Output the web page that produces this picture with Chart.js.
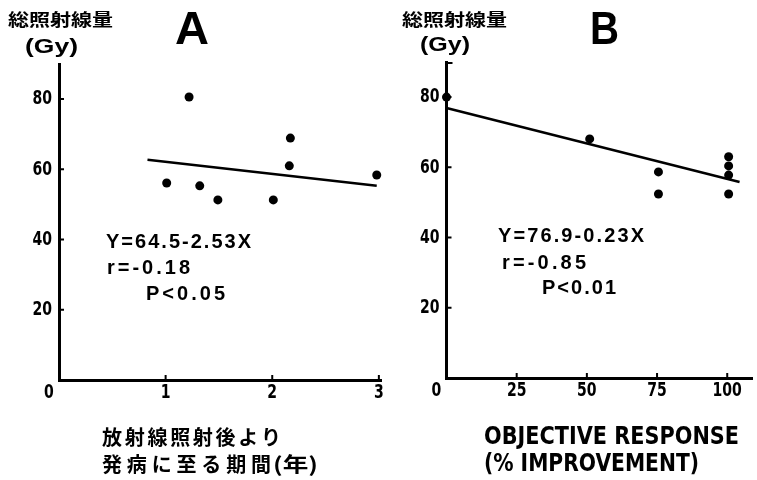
<!DOCTYPE html>
<html><head><meta charset="utf-8">
<script src="https://cdn.jsdelivr.net/npm/chart.js@4.4.1/dist/chart.umd.min.js"></script>
<style>
html,body{margin:0;padding:0;background:#fff;width:757px;height:480px;overflow:hidden;}
#wrap{position:relative;width:757px;height:480px;background:#fff;}
canvas{position:absolute;top:0;}
#ca{left:0;} #cb{left:380px;}
</style></head><body>
<div id="wrap"><canvas id="ca" width="400" height="480"></canvas><canvas id="cb" width="377" height="480"></canvas></div>
<script>
// ---- Panel A data: years from irradiation to onset vs total dose (Gy)
const aYears = [1.01, 1.22, 1.32, 1.49, 2.01, 2.16, 2.17, 2.98];
const aDose  = [56.1, 80.6, 55.3, 51.3, 51.3, 61.0, 68.9, 58.4];
const aFitX  = [0.83, 2.98];
const aFitY  = [62.7, 55.3];
const aXTicks = [1, 2, 3];

// ---- Panel B data: objective response (% improvement) vs total dose (Gy)
const bResp = [0, 51, 75.5, 75.5, 100.5, 100.5, 100.5, 100.5];
const bDose = [80, 68.1, 58.7, 52.4, 63.0, 60.4, 57.8, 52.4];
const bFitX = [0, 104.4];
const bFitY = [76.9, 55.8];
const bXTicks = [25, 50, 75, 100];

const yTicks = [20, 40, 60, 80];

const COND = "'DejaVu Sans Condensed','DejaVu Sans',sans-serif";
const LATIN = "'Liberation Sans',Arial,sans-serif";
const CJK = "'Noto Sans CJK JP',sans-serif";

function drawFit(ctx, t, offX){
  ctx.save();
  ctx.font = t.font;
  ctx.fillStyle = '#000';
  ctx.textBaseline = 'middle';
  ctx.textAlign = 'left';
  const chars = Array.from(t.text);
  const widths = chars.map(c => ctx.measureText(c).width);
  const w = widths.reduce((a,b)=>a+b,0);
  const target = t.x1 - t.x0;
  const left = t.x0 - offX;
  if (t.mode === 'scale' || w >= target || chars.length < 2) {
    const s = target / ctx.measureText(t.text).width;
    ctx.translate(left, t.cy); ctx.scale(s,1);
    ctx.fillText(t.text, 0, 0);
  } else {
    const ls = (target - w)/(chars.length-1);
    let x = left;
    chars.forEach((c,i)=>{ ctx.fillText(c, x, t.cy); x += widths[i] + ls; });
  }
  ctx.restore();
}

// narrow tick label: align 'center' or 'right'
function tickLabel(ctx, text, x, y, align){
  ctx.save();
  ctx.font = "bold 20px " + COND;
  ctx.fillStyle = '#000';
  ctx.textBaseline = 'middle';
  ctx.textAlign = align;
  ctx.translate(x, y);
  ctx.scale(0.78, 1);
  ctx.fillText(text, 0, 0);
  ctx.restore();
}

const decorPlugin = {
  id: 'decor',
  afterDatasetsDraw(chart, args, opts){
    const {ctx, chartArea: ca, scales: {x, y}} = chart;
    ctx.save();
    ctx.strokeStyle = '#000';
    ctx.lineWidth = 2;
    ctx.beginPath();
    opts.xTicks.forEach(v => { const px = x.getPixelForValue(v); ctx.moveTo(px, ca.bottom); ctx.lineTo(px, ca.bottom - 5); });
    opts.yTicks.forEach(v => { const py = y.getPixelForValue(v); ctx.moveTo(ca.left, py); ctx.lineTo(ca.left + 5, py); });
    if (opts.cap) { ctx.moveTo(ca.left, ca.top + 1); ctx.lineTo(ca.left + 6, ca.top + 1); }
    ctx.stroke();
    ctx.restore();
    opts.xTicks.forEach(v => tickLabel(ctx, String(v), x.getPixelForValue(v), ca.bottom + 13, 'center'));
    opts.yTicks.forEach(v => tickLabel(ctx, String(v), ca.left - 7, y.getPixelForValue(v), 'right'));
    tickLabel(ctx, '0', x.getPixelForValue(0) - 10, ca.bottom + 13, 'center');
    opts.texts.forEach(t => drawFit(ctx, t, opts.offX));
  }
};

function makeChart(id, cfg){
  const yw = cfg.yWidth, xh = cfg.xHeight;
  return new Chart(document.getElementById(id), {
    type: 'scatter',
    data: {
      datasets: [
        { data: cfg.px.map((v,i)=>({x:v, y:cfg.py[i]})), backgroundColor:'#000', borderColor:'#000',
          pointRadius: 4.5, pointHoverRadius: 4.5, borderWidth: 0, clip: false },
        { data: cfg.fx.map((v,i)=>({x:v, y:cfg.fy[i]})), showLine: true, borderColor:'#000',
          borderWidth: 2.5, pointRadius: 0, fill: false, clip: false }
      ]
    },
    options: {
      responsive: false, animation: false, devicePixelRatio: 1,
      layout: { padding: { left: 0, top: cfg.top, right: cfg.right, bottom: 0 } },
      plugins: { legend: {display:false}, tooltip: {enabled:false}, decor: cfg.decor },
      scales: {
        x: { type:'linear', min: 0, max: cfg.xMax,
             grid: { display:false, drawTicks:false },
             border: { display:true, color:'#000', width:3 },
             ticks: { display:false },
             afterBuildTicks: s => { s.ticks = cfg.xTicks.map(v=>({value:v})); },
             afterFit: s => { s.height = xh; } },
        y: { type:'linear', min: 0, max: 90,
             grid: { display:false, drawTicks:false },
             border: { display:true, color:'#000', width:3 },
             ticks: { display:false },
             afterBuildTicks: s => { s.ticks = yTicks.map(v=>({value:v})); },
             afterFit: s => { s.width = yw; } }
      }
    },
    plugins: [decorPlugin]
  });
}

makeChart('ca', {
  px: aYears, py: aDose, fx: aFitX, fy: aFitY, xTicks: aXTicks, xMax: 3.02,
  yWidth: 59, xHeight: 100, top: 64, right: 19,
  decor: { offX: 0, xTicks: aXTicks, yTicks: yTicks, cap: false, texts: [
    { text:'総照射線量', x0:8, x1:113, cy:20, font:'bold 17px '+CJK, mode:'scale' },
    { text:'(Gy)', x0:25, x1:78, cy:47, font:'bold 21px '+LATIN, mode:'scale' },
    { text:'A', x0:175, x1:209, cy:31, font:'bold 47px '+LATIN, mode:'scale' },
    { text:'Y=64.5-2.53X', x0:106, x1:251, cy:242, font:'bold 20px '+LATIN },
    { text:'r=-0.18', x0:107, x1:190, cy:268, font:'bold 20px '+LATIN },
    { text:'P<0.05', x0:146, x1:225, cy:294, font:'bold 20px '+LATIN },
    { text:'放射線照射後より', x0:102, x1:281, cy:437, font:'bold 20px '+CJK },
    { text:'発病に至る期間', x0:102, x1:271, cy:464, font:'bold 20px '+CJK },
    { text:'(年)', x0:273, x1:318, cy:464, font:'bold 20px '+CJK, mode:'scale' }
  ]}
});

makeChart('cb', {
  px: bResp, py: bDose, fx: bFitX, fy: bFitY, xTicks: bXTicks, xMax: 109,
  yWidth: 66.5, xHeight: 102, top: 62, right: 1,
  decor: { offX: 380, xTicks: bXTicks, yTicks: yTicks, cap: true, texts: [
    { text:'総照射線量', x0:402, x1:507, cy:20, font:'bold 17px '+CJK, mode:'scale' },
    { text:'(Gy)', x0:420, x1:470, cy:45, font:'bold 21px '+LATIN, mode:'scale' },
    { text:'B', x0:590, x1:619, cy:31, font:'bold 47px '+LATIN, mode:'scale' },
    { text:'Y=76.9-0.23X', x0:498, x1:644, cy:236, font:'bold 20px '+LATIN },
    { text:'r=-0.85', x0:502, x1:586, cy:263, font:'bold 20px '+LATIN },
    { text:'P<0.01', x0:542, x1:616, cy:288, font:'bold 20px '+LATIN },
    { text:'OBJECTIVE RESPONSE', x0:484, x1:739, cy:437, font:'bold 25px '+COND, mode:'scale' },
    { text:'(% IMPROVEMENT)', x0:484, x1:699, cy:464, font:'bold 25px '+COND, mode:'scale' }
  ]}
});
</script>
</body></html>
